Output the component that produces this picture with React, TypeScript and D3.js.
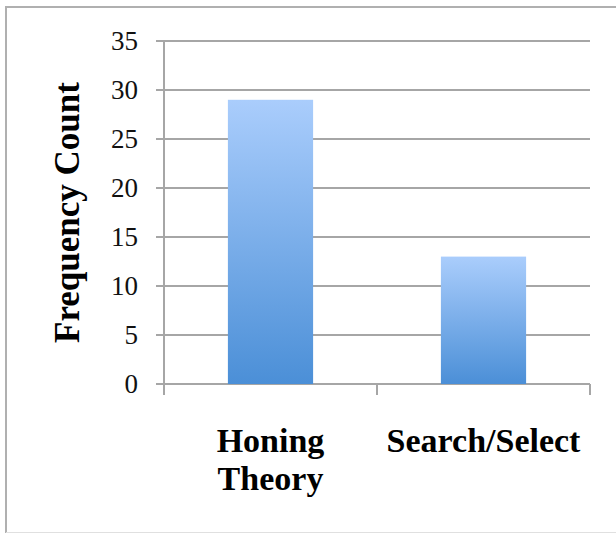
import React from "react";
import * as d3 from "d3";

const categories: string[][] = [["Honing", "Theory"], ["Search/Select"]];
const values: number[] = [29, 13];
const yTicks: number[] = [0, 5, 10, 15, 20, 25, 30, 35];
const yTitle = "Frequency Count";

const W = 616;
const H = 534;

export default function App() {
  const left = 164;
  const right = 590;
  const top = 41;
  const bottom = 384;

  const y = d3.scaleLinear().domain([0, 35]).range([bottom, top]);
  const x = d3
    .scaleBand<number>()
    .domain(values.map((_, i) => i))
    .range([left, right])
    .paddingInner(0.6)
    .paddingOuter(0.3);
  const step = x.step();
  const boundaries = [left, left + step, left + 2 * step];

  const grid = "#a6a6a6";
  const serif = "'Liberation Serif', 'Times New Roman', serif";

  return (
    <svg
      width={W}
      height={H}
      style={{ position: "absolute", left: 0, top: 0, background: "#fff" }}
    >
      <defs>
        <linearGradient id="barGrad" x1="0" y1="0" x2="0" y2="1">
          <stop offset="0%" stopColor="#aacdfc" />
          <stop offset="100%" stopColor="#4b8fd7" />
        </linearGradient>
      </defs>
      {/* outer border */}
      <line x1={6} x2={W} y1={7} y2={7} stroke="#b0b0b0" strokeWidth={2} />
      <line x1={6} x2={6} y1={6} y2={533} stroke="#b0b0b0" strokeWidth={2} />
      <line x1={6} x2={W} y1={532.5} y2={532.5} stroke="#e0e0e0" strokeWidth={1} />

      {/* gridlines & y ticks */}
      {yTicks.map((t) => (
        <g key={t}>
          <line
            x1={156}
            x2={right}
            y1={y(t)}
            y2={y(t)}
            stroke={grid}
            strokeWidth={2}
          />
          <text
            x={138}
            y={y(t)}
            dy="0.35em"
            textAnchor="end"
            fontFamily={serif}
            fontSize={27}
            fill="#111"
          >
            {t}
          </text>
        </g>
      ))}
      {/* y axis */}
      <line x1={left} x2={left} y1={top} y2={395} stroke={grid} strokeWidth={2} />
      {/* x category ticks */}
      {boundaries.map((b, i) => (
        <line key={i} x1={b} x2={b} y1={bottom} y2={395} stroke={grid} strokeWidth={2} />
      ))}

      {/* bars */}
      {values.map((v, i) => (
        <rect
          key={i}
          x={x(i)}
          y={y(v)}
          width={x.bandwidth()}
          height={y(0) - y(v)}
          fill="url(#barGrad)"
        />
      ))}

      {/* category labels */}
      {categories.map((lines, i) => (
        <text
          key={i}
          x={(x(i) as number) + x.bandwidth() / 2}
          y={452}
          textAnchor="middle"
          fontFamily={serif}
          fontWeight="bold"
          fontSize={34}
          fill="#000"
        >
          {lines.map((l, j) => (
            <tspan key={j} x={(x(i) as number) + x.bandwidth() / 2} dy={j === 0 ? 0 : 38}>
              {l}
            </tspan>
          ))}
        </text>
      ))}

      {/* y title */}
      <text
        transform={`translate(79, ${(top + bottom) / 2}) rotate(-90)`}
        textAnchor="middle"
        fontFamily={serif}
        fontWeight="bold"
        fontSize={35}
        fill="#000"
      >
        {yTitle}
      </text>
    </svg>
  );
}
